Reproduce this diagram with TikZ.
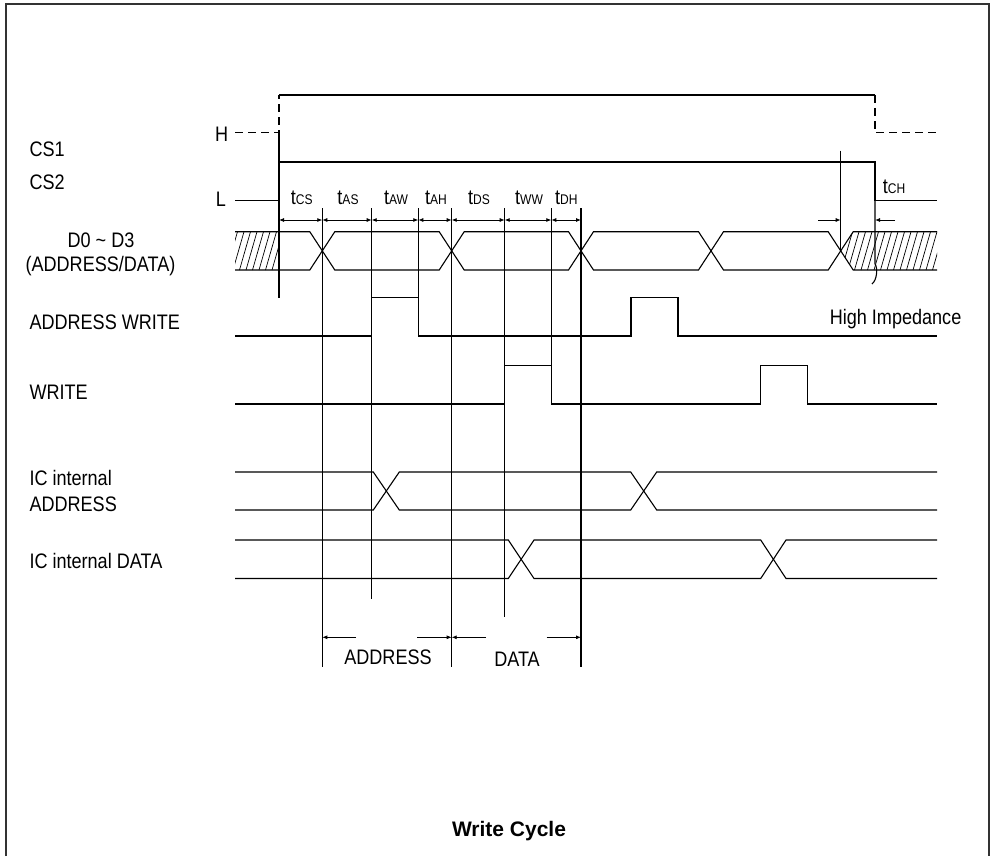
\documentclass[tikz,border=0pt]{standalone}
\usepackage{fontspec}
\setmainfont{Liberation Sans}[FakeStretch=0.86]
\newfontfamily\titlefont{Liberation Sans}
\usetikzlibrary{arrows.meta}
\newcommand\tsb[1]{{\fontsize{14}{14}\selectfont #1}}
\begin{document}
\begin{tikzpicture}[x=1pt,y=-1pt,line width=1pt,line join=miter,
  lbl/.style={font=\fontsize{21}{23}\selectfont,inner sep=0pt,anchor=base west},
  clbl/.style={font=\fontsize{21}{23}\selectfont,inner sep=0pt,anchor=base},
  tlbl/.style={font=\fontsize{21}{23}\selectfont,inner sep=0pt,anchor=base},
  dimtip/.style={line width=0.8pt,-{Latex[length=5pt,width=4pt]}},
  dimboth/.style={line width=0.8pt,{Latex[length=5pt,width=4pt]}-{Latex[length=5pt,width=4pt]}},
  wave/.style={line width=1.1pt},
  hatchline/.style={line width=0.7pt},
  dashline/.style={line width=1.1pt,dash pattern=on 8pt off 5pt}]
\useasboundingbox (0,0) rectangle (992,856);
% frame
\draw[line width=1.5pt,black!80] (6,856) -- (6,4) -- (989,4) -- (989,856);

% labels left
\node[lbl] (cs1) at (29,156) {CS1};
\node[lbl] (cs2) at (29,189) {CS2};
\node[clbl] (d0) at (101,247.3) {D0 \textasciitilde\ D3};
\node[clbl] (ad) at (100.5,271.7) {(ADDRESS/DATA)};
\node[lbl] (aw) at (29,329) {ADDRESS WRITE};
\node[lbl] (wr) at (29,399) {WRITE};
\node[lbl] (ica1) at (29,485) {IC internal};
\node[lbl] (ica2) at (29,511.7) {ADDRESS};
\node[lbl] (icd) at (29,568) {IC internal DATA};
\node[clbl] (hl) at (221.7,141) {H};
\node[clbl] (ll) at (221,206) {L};
\node[lbl] (hi) at (829.3,324.3) {High Impedance};
\node[clbl] (adr) at (388,664) {ADDRESS};
\node[clbl] (dat) at (517,666) {DATA};
\node[inner sep=0pt,anchor=base,font=\titlefont\bfseries\fontsize{21}{23}\selectfont] (title) at (509,836) {Write Cycle};

% timing labels
\node[tlbl] (tcs) at (301.7,204) {t\tsb{CS}};
\node[tlbl] (tas) at (348,204) {t\tsb{AS}};
\node[tlbl] (taw) at (396,204) {t\tsb{AW}};
\node[tlbl] (tah) at (436,204) {t\tsb{AH}};
\node[tlbl] (tds) at (479,204) {t\tsb{DS}};
\node[tlbl] (tww) at (529,204) {t\tsb{WW}};
\node[tlbl] (tdh) at (566.3,204) {t\tsb{DH}};
\node[tlbl] (tch) at (894,193.5) {t\tsb{CH}};

% CS signals
\draw[dashline] (235,132.7) -- (279,132.7) -- (279,95);
\draw[wave] (279,95) -- (875,95);
\draw[dashline] (875,95) -- (875,132.7) -- (937,132.7);
\draw[wave] (235,200.7) -- (279,200.7);
\draw[wave] (279,162) -- (875,162) -- (875,200.7) -- (937,200.7);
\draw[wave] (279,132.7) -- (279,298);
\draw[wave] (875,200.7) -- (875,264) .. controls (878,268) and (877,280) .. (872,284);

% hatch regions
\begin{scope}
  \clip (235,231.7) rectangle (279,270);
  \foreach \x in {220,226.5,...,285} \draw[hatchline] (\x,270) -- (\x+11,231.7);
\end{scope}
\begin{scope}
  \clip (840.7,250.85) -- (853.2,231.7) -- (937,231.7) -- (937,270) -- (853.2,270) -- cycle;
  \foreach \x in {835,841.5,...,945} \draw[hatchline] (\x,270) -- (\x+11,231.7);
\end{scope}

% data bus
\draw[wave] (235,231.7) -- (309.8,231.7) -- (322.3,250.85) -- (309.8,270) -- (235,270);
\foreach \a/\b in {322.3/451.7,451.7/581,581/711,711/840.7}
  \draw[wave] (\a,250.85) -- (\a+12.5,231.7) -- (\b-12.5,231.7) -- (\b,250.85) -- (\b-12.5,270) -- (\a+12.5,270) -- cycle;
\draw[wave] (840.7,250.85) -- (853.2,231.7) -- (937,231.7);
\draw[wave] (840.7,250.85) -- (853.2,270) -- (937,270);

% ADDRESS WRITE
\draw[wave] (235,336) -- (371.7,336) -- (371.7,297.3) -- (418.3,297.3) -- (418.3,336) -- (631,336) -- (631,297.3) -- (678,297.3) -- (678,336) -- (937,336);
% WRITE
\draw[wave] (235,404) -- (504.7,404) -- (504.7,365.3) -- (551.3,365.3) -- (551.3,404) -- (760.7,404) -- (760.7,365.3) -- (807.7,365.3) -- (807.7,404) -- (937,404);
% IC internal ADDRESS
\draw[wave] (235,472) -- (373.3,472) -- (399.3,510) -- (630.7,510) -- (656.7,472) -- (937,472);
\draw[wave] (235,510) -- (373.3,510) -- (399.3,472) -- (630.7,472) -- (656.7,510) -- (937,510);
% IC internal DATA
\draw[wave] (235,540) -- (508.3,540) -- (534,578.5) -- (760.7,578.5) -- (786,540) -- (937,540);
\draw[wave] (235,578.5) -- (508.3,578.5) -- (534,540) -- (760.7,540) -- (786,578.5) -- (937,578.5);

% timing verticals
\draw[wave] (322.3,208.3) -- (322.3,666.7);
\draw[wave] (371.7,208.3) -- (371.7,599);
\draw[wave] (418.3,208.3) -- (418.3,297.3);
\draw[wave] (451.7,208.3) -- (451.7,666.7);
\draw[wave] (504.7,208.3) -- (504.7,616.7);
\draw[wave] (551.3,208.3) -- (551.3,365.3);
\draw[wave] (581,208.3) -- (581,666.7);
\draw[wave] (840.7,150.7) -- (840.7,250.85);

% timing dimension arrows
\foreach \a/\b in {279/322.3,322.3/371.7,371.7/418.3,418.3/451.7,451.7/504.7,504.7/551.3,551.3/581}
  \draw[dimboth] (\a,220) -- (\b,220);
\draw[dimtip] (818,220) -- (840.7,220);
\draw[dimtip] (895,220) -- (875,220);

% bottom dimension arrows
\draw[dimtip] (356,637.3) -- (322.3,637.3);
\draw[dimtip] (417,637.3) -- (451.7,637.3);
\draw[dimtip] (486,637.3) -- (451.7,637.3);
\draw[dimtip] (546.7,637.3) -- (581,637.3);
\end{tikzpicture}
\end{document}
